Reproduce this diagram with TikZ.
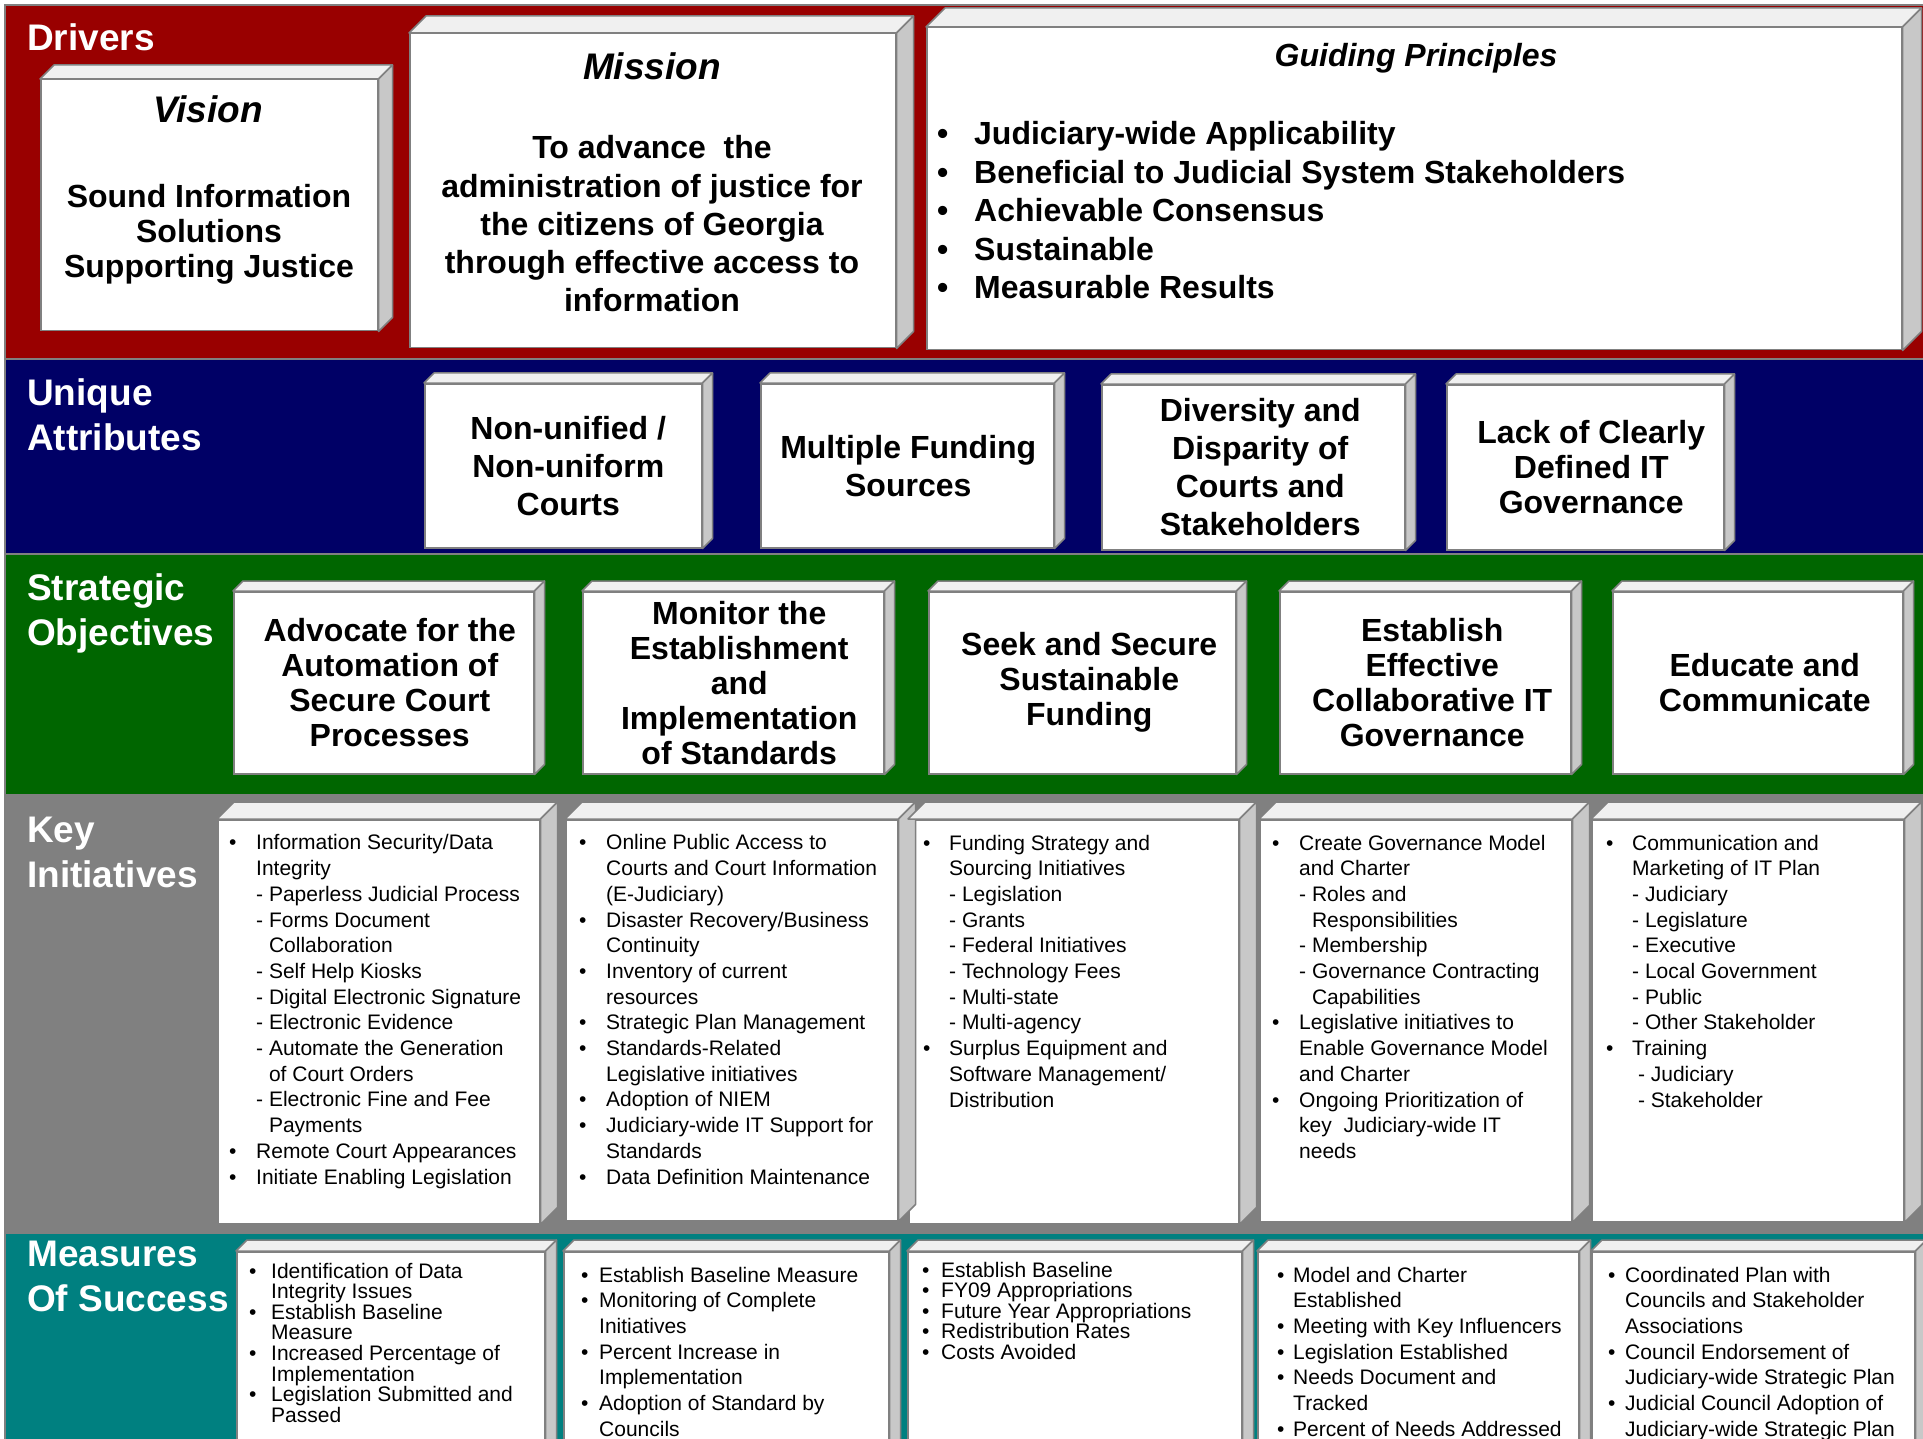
\documentclass[tikz,border=0pt]{standalone}
\usepackage{fontspec}
\setmainfont{Liberation Sans}
\usepackage{tikz}
\usetikzlibrary{calc}
\definecolor{drvred}{RGB}{153,0,0}
\definecolor{attrblue}{RGB}{0,0,102}
\definecolor{objgreen}{RGB}{0,102,0}
\definecolor{initgray}{RGB}{128,128,128}
\definecolor{measteal}{RGB}{0,128,128}
\definecolor{edgegray}{RGB}{128,128,128}
\definecolor{topgray}{RGB}{240,240,240}
\definecolor{sidegray}{RGB}{200,200,200}

% bullet lists
\newlength{\bulletgap}
\newcommand{\itm}[1]{\makebox[\bulletgap][l]{\textbullet}#1}
\newcommand{\cnt}[1]{\hspace*{\bulletgap}#1}
\newcommand{\subitm}[1]{\hspace*{\bulletgap}- #1}
\newcommand{\subcnt}[1]{\hspace*{\bulletgap}\phantom{- }#1}

% top and side of a box node
\newcommand{\cubefaces}[2]{%
  \draw[topface] (#1.north west) -- ++(#2,-#2) -- ($(#1.north east)+(#2,-#2)$) -- (#1.north east) -- cycle;
  \draw[sideface] (#1.north east) -- ++(#2,-#2) -- ($(#1.south east)+(#2,-#2)$) -- (#1.south east) -- cycle;}

\begin{document}
\begin{tikzpicture}[
    x=1pt, y=-1pt,
    band/.style={draw=edgegray, line width=2.5pt},
    bandlabel/.style={anchor=base west, align=left, inner sep=0, text=white, font=\fontsize{37}{45}\selectfont\bfseries},
    frontbox/.style={rectangle, draw=edgegray, fill=white, line width=1.5pt, anchor=north west, inner sep=0},
    topface/.style={draw=edgegray, fill=topgray, line width=1.5pt, line join=round},
    sideface/.style={draw=edgegray, fill=sidegray, line width=1.5pt, line join=round},
    boxtitle/.style={anchor=base, inner sep=0, font=\fontsize{37}{44}\selectfont\bfseries\itshape},
    boxbody/.style={anchor=base, align=center, inner sep=0, font=\fontsize{32}{38}\selectfont\bfseries},
    attrtext/.style={align=center, inner sep=0, font=\fontsize{32}{38}\selectfont\bfseries},
    objtext/.style={attrtext, font=\fontsize{32}{35}\selectfont\bfseries},
    initlist/.style={anchor=base west, align=left, inner sep=0, font=\fontsize{21}{25.7}\selectfont},
    tightlist/.style={initlist, font=\fontsize{21}{20.6}\selectfont},
    bgap/.style={execute at begin node={\setlength{\bulletgap}{#1}}}
]
\useasboundingbox (0,0) rectangle (1923,1439);
\fill[white] (0,0) rectangle (1923,1439);
\clip (0,0) rectangle (1923,1439);

% Bands
\filldraw[band, fill=drvred] (5,5) rectangle (1935,359);
\filldraw[band, fill=attrblue] (5,359) rectangle (1935,554);
\filldraw[band, fill=objgreen] (5,554) rectangle (1935,795);
\filldraw[band, fill=initgray] (5,795) rectangle (1935,1233);
\filldraw[band, fill=measteal] (5,1233) rectangle (1935,1460);

% labels sit on the baseline of their last line
\node[bandlabel] (lbldrv) at (27,51) {Drivers};
\node[bandlabel] (lblattr) at (27,450) {Unique\\Attributes};
\node[bandlabel] (lblobj) at (27,645) {Strategic\\Objectives};
\node[bandlabel] (lblinit) at (27,887) {Key\\Initiatives};
\node[bandlabel] (lblmeas) at (27,1311) {Measures\\Of Success};

% Drivers
\node[frontbox, minimum width=337, minimum height=251] (vision) at (40,79) {};
\node[frontbox, minimum width=486, minimum height=314] (mission) at (409,33) {};
\node[frontbox, minimum width=975, minimum height=322] (guiding) at (926,27) {};

\node[boxtitle] (visiontitle) at (208,123) {Vision};
\node[boxbody, font=\fontsize{32}{35}\selectfont\bfseries] (visiontext) at (209,278)
  {Sound Information\\Solutions\\Supporting Justice};
\node[boxtitle] (missiontitle) at (652,80) {Mission};
\node[boxbody, font=\fontsize{32}{38.3}\selectfont\bfseries] (missiontext) at (652,312)
  {To advance\ \ the\\administration of justice for\\the citizens of Georgia\\through effective access to\\information};
\node[boxtitle, font=\fontsize{32}{38}\selectfont\bfseries\itshape] (guidingtitle) at (1416,67) {Guiding Principles};
\node[initlist, bgap=37pt, font=\fontsize{32}{38.5}\selectfont\bfseries] (guidingtext) at (937,299)
  {\itm{Judiciary-wide Applicability}\\\itm{Beneficial to Judicial System Stakeholders}\\
   \itm{Achievable Consensus}\\\itm{Sustainable}\\\itm{Measurable Results}};

% Unique attributes
\node[frontbox, minimum width=277, minimum height=164] (nonunified) at (424,383) {};
\node[frontbox, minimum width=293, minimum height=164] (funding) at (760,383) {};
\node[frontbox, minimum width=303, minimum height=165] (diversity) at (1101,384) {};
\node[frontbox, minimum width=277, minimum height=165] (lackgov) at (1446,384) {};

\node[attrtext] (nonunifiedtext) at ($(nonunified.center)+(5,0)$) {Non-unified /\\Non-uniform\\Courts};
\node[attrtext] (fundingtext) at ($(funding.center)+(1,0)$) {Multiple Funding\\Sources};
\node[attrtext] (diversitytext) at ($(diversity.center)+(7,0)$) {Diversity and\\Disparity of\\Courts and\\Stakeholders};
\node[attrtext, font=\fontsize{32}{35}\selectfont\bfseries] (lackgovtext) at ($(lackgov.center)+(6,0)$)
  {Lack of Clearly\\Defined IT\\Governance};

% Strategic objectives
\node[frontbox, minimum width=300, minimum height=182] (advocate) at (233,591) {};
\node[frontbox, minimum width=301, minimum height=182] (monitor) at (582,591) {};
\node[frontbox, minimum width=307, minimum height=182] (seek) at (928,591) {};
\node[frontbox, minimum width=291, minimum height=182] (establish) at (1279,591) {};
\node[frontbox, minimum width=290, minimum height=182] (educate) at (1612,591) {};

\node[objtext] (advocatetext) at ($(advocate.center)+(6,0)$) {Advocate for the\\Automation of\\Secure Court\\Processes};
\node[objtext] (monitortext) at ($(monitor.center)+(6,0)$) {Monitor the\\Establishment\\and\\Implementation\\of Standards};
\node[objtext] (seektext) at ($(seek.center)+(7,0)$) {Seek and Secure\\Sustainable\\Funding};
\node[objtext] (establishtext) at ($(establish.center)+(7,0)$) {Establish\\Effective\\Collaborative IT\\Governance};
\node[objtext] (educatetext) at ($(educate.center)+(7,0)$) {Educate and\\Communicate};

% Key initiatives
\node[frontbox, minimum width=322, minimum height=404] (ki1) at (217,819) {};
\node[frontbox, minimum width=332, minimum height=401] (ki2) at (565,819) {};
\node[frontbox, minimum width=330, minimum height=404] (ki3) at (908,819) {};
\node[frontbox, minimum width=312, minimum height=402] (ki4) at (1259,819) {};
\node[frontbox, minimum width=312, minimum height=402] (ki5) at (1591,819) {};

\node[initlist, bgap=27pt] (ki1text) at (229,1184)
  {\itm{Information Security/Data}\\\cnt{Integrity}\\\subitm{Paperless Judicial Process}\\
   \subitm{Forms Document}\\\subcnt{Collaboration}\\\subitm{Self Help Kiosks}\\
   \subitm{Digital Electronic Signature}\\\subitm{Electronic Evidence}\\
   \subitm{Automate the Generation}\\\subcnt{of Court Orders}\\
   \subitm{Electronic Fine and Fee}\\\subcnt{Payments}\\
   \itm{Remote Court Appearances}\\\itm{Initiate Enabling Legislation}};
\node[initlist, bgap=27pt] (ki2text) at (579,1184)
  {\itm{Online Public Access to}\\\cnt{Courts and Court Information}\\\cnt{(E-Judiciary)}\\
   \itm{Disaster Recovery/Business}\\\cnt{Continuity}\\
   \itm{Inventory of current}\\\cnt{resources}\\
   \itm{Strategic Plan Management}\\
   \itm{Standards-Related}\\\cnt{Legislative initiatives}\\
   \itm{Adoption of NIEM}\\
   \itm{Judiciary-wide IT Support for}\\\cnt{Standards}\\
   \itm{Data Definition Maintenance}};
\node[initlist, bgap=26pt] (ki3text) at (923,1107)
  {\itm{Funding Strategy and}\\\cnt{Sourcing Initiatives}\\
   \subitm{Legislation}\\\subitm{Grants}\\\subitm{Federal Initiatives}\\
   \subitm{Technology Fees}\\\subitm{Multi-state}\\\subitm{Multi-agency}\\
   \itm{Surplus Equipment and}\\\cnt{Software Management/}\\\cnt{Distribution}};
\node[initlist, bgap=27pt] (ki4text) at (1272,1158.4)
  {\itm{Create Governance Model}\\\cnt{and Charter}\\
   \subitm{Roles and}\\\subcnt{Responsibilities}\\\subitm{Membership}\\
   \subitm{Governance Contracting}\\\subcnt{Capabilities}\\
   \itm{Legislative initiatives to}\\\cnt{Enable Governance Model}\\\cnt{and Charter}\\
   \itm{Ongoing Prioritization of}\\\cnt{key\ \ Judiciary-wide IT}\\\cnt{needs}};
\node[initlist, bgap=26pt] (ki5text) at (1606,1107)
  {\itm{Communication and}\\\cnt{Marketing of IT Plan}\\
   \subitm{Judiciary}\\\subitm{Legislature}\\\subitm{Executive}\\
   \subitm{Local Government}\\\subitm{Public}\\\subitm{Other Stakeholder}\\
   \itm{Training}\\\cnt{\ - Judiciary}\\\cnt{\ - Stakeholder}};

% Measures of success
\node[frontbox, minimum width=308, minimum height=220] (ms1) at (236,1251) {};
\node[frontbox, minimum width=325, minimum height=220] (ms2) at (563,1251) {};
\node[frontbox, minimum width=334, minimum height=220] (ms3) at (907,1251) {};
\node[frontbox, minimum width=321, minimum height=220] (ms4) at (1257,1251) {};
\node[frontbox, minimum width=323, minimum height=220] (ms5) at (1591,1251) {};

\node[tightlist, bgap=22pt] (ms1text) at (249,1422.2)
  {\itm{Identification of Data}\\\cnt{Integrity Issues}\\
   \itm{Establish Baseline}\\\cnt{Measure}\\
   \itm{Increased Percentage of}\\\cnt{Implementation}\\
   \itm{Legislation Submitted and}\\\cnt{Passed}};
\node[initlist, bgap=18pt] (ms2text) at (581,1436.2)
  {\itm{Establish Baseline Measure}\\
   \itm{Monitoring of Complete}\\\cnt{Initiatives}\\
   \itm{Percent Increase in}\\\cnt{Implementation}\\
   \itm{Adoption of Standard by}\\\cnt{Councils}};
\node[tightlist, bgap=19pt] (ms3text) at (922,1359.4)
  {\itm{Establish Baseline}\\\itm{FY09 Appropriations}\\\itm{Future Year Appropriations}\\
   \itm{Redistribution Rates}\\\itm{Costs Avoided}};
\node[initlist, bgap=16pt] (ms4text) at (1277,1436.2)
  {\itm{Model and Charter}\\\cnt{Established}\\
   \itm{Meeting with Key Influencers}\\
   \itm{Legislation Established}\\
   \itm{Needs Document and}\\\cnt{Tracked}\\
   \itm{Percent of Needs Addressed}};
\node[initlist, bgap=17pt] (ms5text) at (1608,1436.2)
  {\itm{Coordinated Plan with}\\\cnt{Councils and Stakeholder}\\\cnt{Associations}\\
   \itm{Council Endorsement of}\\\cnt{Judiciary-wide Strategic Plan}\\
   \itm{Judicial Council Adoption of}\\\cnt{Judiciary-wide Strategic Plan}};

% 3D faces
\foreach \cb/\dep in {vision/14, mission/17, guiding/19,
    nonunified/10, funding/10, diversity/10, lackgov/10,
    advocate/10, monitor/10, seek/10, establish/10, educate/10,
    ki1/17, ki2/17, ki3/17, ki4/17, ki5/17,
    ms1/11, ms2/11, ms3/11, ms4/11, ms5/11}
  {\cubefaces{\cb}{\dep}}
\end{tikzpicture}
\end{document}
